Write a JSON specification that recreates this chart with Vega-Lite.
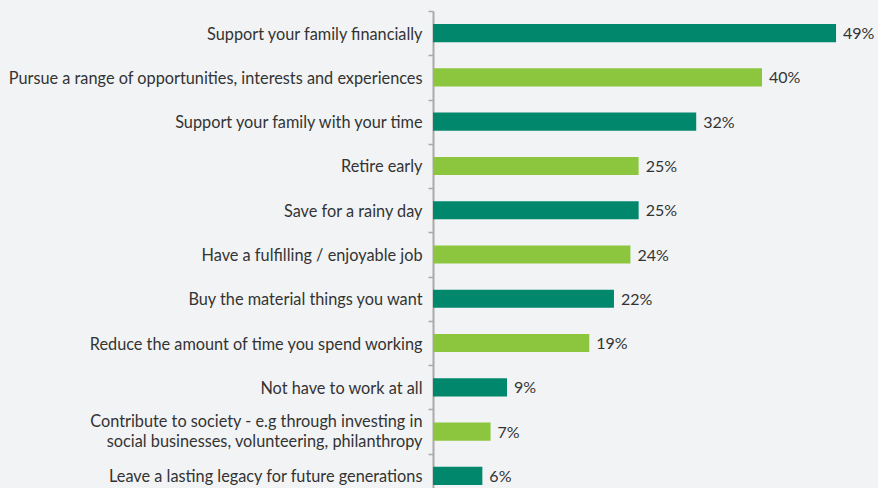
{
  "$schema": "https://vega.github.io/schema/vega-lite/v6.json",
  "width": 445,
  "height": 477,
  "autosize": {"type": "none"},
  "padding": {"left": 433, "top": 11, "right": 0, "bottom": 0},
  "background": "#f2f3f5",
  "config": {"view": {"stroke": null}, "font": "Lato"},
  "data": {"values": [
    {"label": "Support your family financially", "value": 49},
    {"label": "Pursue a range of opportunities, interests and experiences", "value": 40},
    {"label": "Support your family with your time", "value": 32},
    {"label": "Retire early", "value": 25},
    {"label": "Save for a rainy day", "value": 25},
    {"label": "Have a fulfilling / enjoyable job", "value": 24},
    {"label": "Buy the material things you want", "value": 22},
    {"label": "Reduce the amount of time you spend working", "value": 19},
    {"label": "Not have to work at all", "value": 9},
    {"label": "Contribute to society - e.g through investing in|social businesses, volunteering, philanthropy", "value": 7},
    {"label": "Leave a lasting legacy for future generations", "value": 6}
  ]},
  "transform": [{"window": [{"op": "row_number", "as": "idx"}]}],
  "encoding": {
    "y": {
      "field": "label", "type": "nominal", "sort": null,
      "scale": {"range": [0, 487], "paddingInner": 0, "paddingOuter": 0},
      "axis": {
        "title": null,
        "labelExpr": "split(datum.label, '|')",
        "labelOffset": {"condition": {"test": "indexof(datum.label, '|') >= 0", "value": -10}, "value": 1},
        "labelFont": "Lato", "labelFontSize": 16.3, "labelColor": "#333333",
        "labelLineHeight": 20, "labelPadding": 6, "labelLimit": 600,
        "tickBand": "extent", "tickSize": 5, "tickColor": "#aaaaaa", "tickWidth": 1.5,
        "domainColor": "#aaaaaa", "domainWidth": 2
      }
    },
    "x": {
      "field": "value", "type": "quantitative",
      "scale": {"domain": [0, 54.1]},
      "axis": null
    }
  },
  "layer": [
    {
      "mark": {"type": "bar", "height": {"band": 0.41}},
      "encoding": {
        "color": {"condition": {"test": "datum.idx % 2 == 1", "value": "#00876c"}, "value": "#8cc63f"}
      }
    },
    {
      "mark": {"type": "text", "align": "left", "baseline": "middle", "dx": 7, "dy": 1, "fontSize": 16, "color": "#333333", "font": "Lato", "text": {"expr": "datum.value + '%'"}},
      "encoding": {}
    }
  ]
}
